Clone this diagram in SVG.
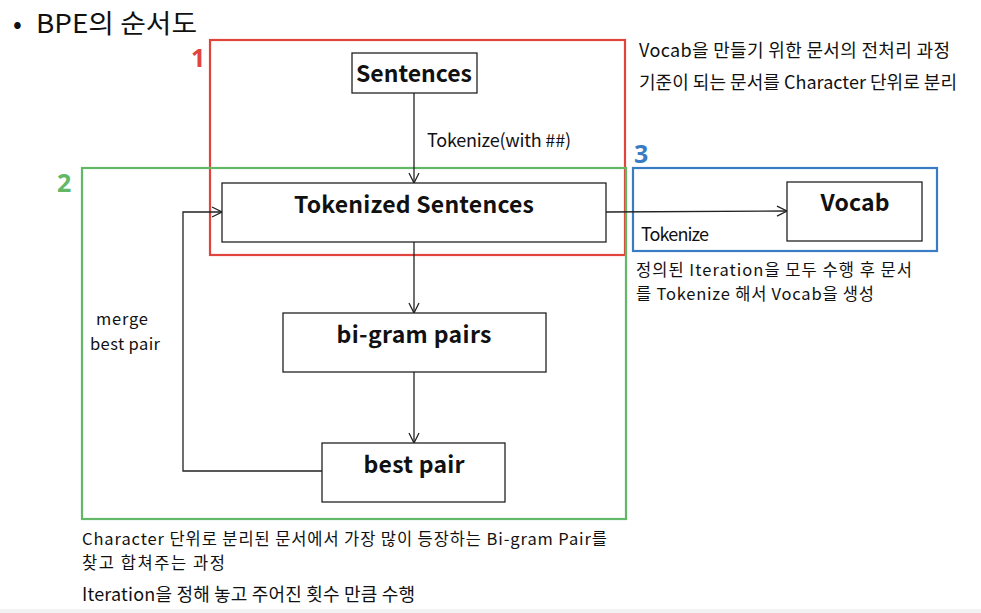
<svg xmlns="http://www.w3.org/2000/svg" width="981" height="613" viewBox="0 0 981 613">
<style>
text{font-family:"Noto Sans CJK KR","Noto Sans",sans-serif;fill:#111}
.t{font-size:18px}
.s{font-size:16.5px}
.n{font-size:23px;font-weight:bold;text-anchor:middle}
.box{fill:#fff;stroke:#222;stroke-width:1.3}
.grp{fill:none;stroke-width:2.2}
.c{fill:none;stroke:#222;stroke-width:1.3}
.num{font-size:25px;font-weight:bold;font-family:"Noto Sans",sans-serif}
</style>
<defs>
<marker id="ah" viewBox="0 0 12 12" refX="11" refY="6" markerWidth="12" markerHeight="12" markerUnits="userSpaceOnUse" orient="auto">
<path d="M1,1 L11,6 L1,11" fill="none" stroke="#222" stroke-width="1.3"/>
</marker>
</defs>
<rect width="981" height="613" fill="#fff"/>
<rect x="0" y="609" width="981" height="4" fill="#f2f2f2"/>
<text x="13" y="33" style="font-size:26px">•</text>
<text x="36" y="33" style="font-size:26px" textLength="161" lengthAdjust="spacingAndGlyphs">BPE의 순서도</text>

<g id="group1">
<rect class="grp" x="210" y="40" width="415" height="215" stroke="#e0443c"/>
<text class="num" x="191" y="67" style="fill:#e0443c">1</text>
</g>
<g id="group2">
<rect class="grp" x="82" y="168" width="544" height="351" stroke="#62b866"/>
<text class="num" x="57" y="192" style="fill:#62b866">2</text>
</g>
<g id="group3">
<rect class="grp" x="633" y="168" width="304" height="83" stroke="#3a7cc4"/>
<text class="num" x="634" y="163" style="fill:#3a7cc4">3</text>
</g>

<g id="connectors">
<line class="c" x1="414" y1="93" x2="414" y2="183" marker-end="url(#ah)"/>
<line class="c" x1="414" y1="242" x2="414" y2="313" marker-end="url(#ah)"/>
<line class="c" x1="414" y1="372" x2="414" y2="443" marker-end="url(#ah)"/>
<polyline class="c" points="322,471 183,471 183,212 222,212" marker-end="url(#ah)"/>
<line class="c" x1="606" y1="212" x2="787" y2="211" marker-end="url(#ah)"/>
<text class="t" x="427" y="147" textLength="144">Tokenize(with ##)</text>
<text class="t" x="641" y="241" textLength="68">Tokenize</text>
<text class="s" x="96" y="325" textLength="52">merge</text>
<text class="s" x="90" y="350" textLength="70">best pair</text>
</g>

<g id="sentences">
<rect class="box" x="352" y="53" width="125" height="40"/>
<text class="n" x="414" y="82" textLength="116">Sentences</text>
</g>
<g id="tokenized">
<rect class="box" x="222" y="183" width="384" height="59"/>
<text class="n" x="414" y="213" textLength="240">Tokenized Sentences</text>
</g>
<g id="bigram">
<rect class="box" x="283" y="313" width="263" height="59"/>
<text class="n" x="414" y="343" textLength="155">bi-gram pairs</text>
</g>
<g id="bestpair">
<rect class="box" x="322" y="443" width="183" height="59"/>
<text class="n" x="414" y="473" textLength="101">best pair</text>
</g>
<g id="vocab">
<rect class="box" x="787" y="182" width="135" height="59"/>
<text class="n" x="855" y="211" textLength="69">Vocab</text>
</g>

<g id="notes">
<text class="t" x="639" y="57" textLength="311">Vocab을 만들기 위한 문서의 전처리 과정</text>
<text class="t" x="639" y="89" textLength="318">기준이 되는 문서를 Character 단위로 분리</text>
<text class="s" x="636" y="276" textLength="276">정의된 Iteration을 모두 수행 후 문서</text>
<text class="s" x="636" y="300" textLength="238">를 Tokenize 해서 Vocab을 생성</text>
<text class="s" x="82" y="545" textLength="525">Character 단위로 분리된 문서에서 가장 많이 등장하는 Bi-gram Pair를</text>
<text class="s" x="82" y="569" textLength="143">찾고 합쳐주는 과정</text>
<text class="t" x="82" y="601" textLength="333">Iteration을 정해 놓고 주어진 횟수 만큼 수행</text>
</g>
</svg>
